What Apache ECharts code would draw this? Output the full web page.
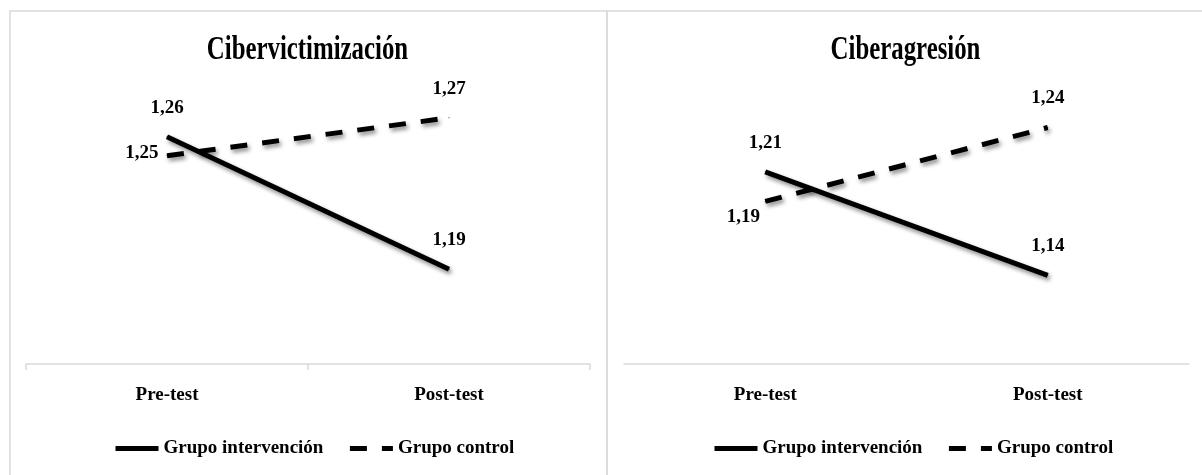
<!DOCTYPE html>
<html>
<head>
<meta charset="utf-8">
<script src="https://cdn.jsdelivr.net/npm/echarts@6/dist/echarts.min.js"></script>
<style>
html,body{margin:0;padding:0;background:#fff;}
#chart{width:1202px;height:475px;}
</style>
</head>
<body>
<div id="chart"></div>
<script>
// ---- data ----
const categories = ['Pre-test', 'Post-test'];
const panelTitles = ['Cibervictimización', 'Ciberagresión'];
const seriesNames = ['Grupo intervención', 'Grupo control'];
const cibervictimizacionIntervencion = [1.26, 1.19];
const cibervictimizacionControl = [1.25, 1.27];
const ciberagresionIntervencion = [1.21, 1.14];
const ciberagresionControl = [1.19, 1.24];

// ---- styles ----
const FONT = 'Liberation Serif';
const GRAY = '#d9d9d9';
const fmt = p => p.value.toFixed(2).replace('.', ',');
const baseLabel = {
  show: true, position: 'top', distance: 19, formatter: fmt,
  fontFamily: FONT, fontWeight: 'bold', fontSize: 19, color: '#000'
};
function lineStyle(dashed) {
  return {
    color: '#000', width: 5, type: dashed ? [17, 15] : 'solid', cap: 'butt',
    shadowColor: 'rgba(0,0,0,0.45)', shadowBlur: 4, shadowOffsetX: 2, shadowOffsetY: 3
  };
}
function mk(name, values, dashed, idx, labelOverrides) {
  return {
    name: name, type: 'line', xAxisIndex: idx, yAxisIndex: idx,
    symbol: 'circle', symbolSize: 1, showSymbol: true, z: dashed ? 2 : 3,
    lineStyle: lineStyle(dashed),
    itemStyle: { color: '#000' },
    label: baseLabel,
    emphasis: { disabled: true },
    data: values.map((v, i) => {
      const o = { value: v };
      if (labelOverrides && labelOverrides[i]) o.label = Object.assign({}, baseLabel, labelOverrides[i]);
      return o;
    })
  };
}
const legendBase = {
  data: seriesNames, top: 434, itemWidth: 43, itemHeight: 18, itemGap: 24,
  itemStyle: { opacity: 0 },
  lineStyle: { width: 5, shadowBlur: 0, shadowColor: 'rgba(0,0,0,0)' },
  textStyle: { fontFamily: FONT, fontWeight: 'bold', fontSize: 19, color: '#000' },
  selectedMode: false
};
const xAxisBase = {
  type: 'category', data: categories, boundaryGap: true,
  axisLine: { lineStyle: { color: GRAY, width: 1.5 } },
  axisLabel: { fontFamily: FONT, fontWeight: 'bold', fontSize: 19, color: '#000', margin: 22 }
};
const yAxisBase = { type: 'value', show: false, splitLine: { show: false } };

const chart = echarts.init(document.getElementById('chart'));
chart.setOption({
  animation: false,
  backgroundColor: '#fff',
  graphic: [
    { type: 'rect', silent: true, z: -10, shape: { x: 10, y: 11, width: 597, height: 480 },
      style: { fill: 'none', stroke: GRAY, lineWidth: 1.5 } },
    { type: 'rect', silent: true, z: -10, shape: { x: 607, y: 11, width: 600, height: 480 },
      style: { fill: 'none', stroke: GRAY, lineWidth: 1.5 } },
    { type: 'text', x: 307.5, y: 50, scaleX: 0.73, silent: true,
      style: { text: panelTitles[0], fontFamily: FONT, fontWeight: 'bold', fontSize: 34,
               align: 'center', verticalAlign: 'middle', textAlign: 'center', textVerticalAlign: 'middle', fill: '#000' } },
    { type: 'text', x: 905.5, y: 50, scaleX: 0.73, silent: true,
      style: { text: panelTitles[1], fontFamily: FONT, fontWeight: 'bold', fontSize: 34,
               align: 'center', verticalAlign: 'middle', textAlign: 'center', textVerticalAlign: 'middle', fill: '#000' } }
  ],
  legend: [
    Object.assign({}, legendBase, { left: 108 }),
    Object.assign({}, legendBase, { left: 707 })
  ],
  grid: [
    { left: 26, width: 564, top: 61, bottom: 111 },
    { left: 624, width: 565, top: 61, bottom: 111 }
  ],
  xAxis: [
    Object.assign({}, xAxisBase, { gridIndex: 0,
      axisTick: { show: true, length: 6, alignWithLabel: false, lineStyle: { color: GRAY, width: 1.5 } } }),
    Object.assign({}, xAxisBase, { gridIndex: 1, axisTick: { show: false } })
  ],
  yAxis: [
    Object.assign({}, yAxisBase, { gridIndex: 0, min: 1.14, max: 1.30 }),
    Object.assign({}, yAxisBase, { gridIndex: 1, min: 1.08, max: 1.285 })
  ],
  series: [
    mk(seriesNames[1], cibervictimizacionControl, true, 0,
       [{ position: 'left', distance: 8, offset: [0, -3] }, null]),
    mk(seriesNames[0], cibervictimizacionIntervencion, false, 0, null),
    mk(seriesNames[1], ciberagresionControl, true, 1,
       [{ position: 'bottom', distance: 6, offset: [-22, 0] }, null]),
    mk(seriesNames[0], ciberagresionIntervencion, false, 1, null)
  ]
});
</script>
</body>
</html>
